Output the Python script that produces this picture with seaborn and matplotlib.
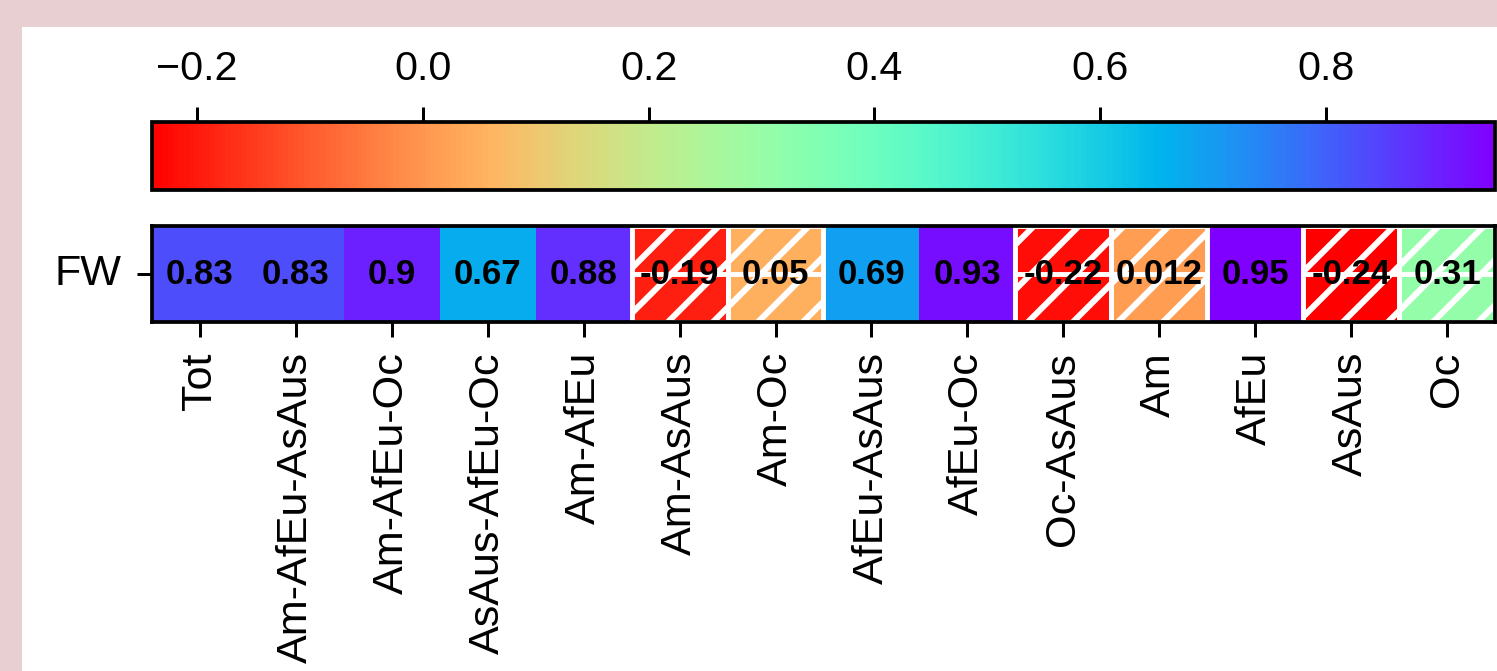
import numpy as np
import pandas as pd
import matplotlib
matplotlib.use('Agg')
import matplotlib.pyplot as plt
from matplotlib.patches import Rectangle
import seaborn as sns

# данные
regions = ['Tot', 'Am-AfEu-AsAus', 'Am-AfEu-Oc', 'AsAus-AfEu-Oc', 'Am-AfEu', 'Am-AsAus', 'Am-Oc',
           'AfEu-AsAus', 'AfEu-Oc', 'Oc-AsAus', 'Am', 'AfEu', 'AsAus', 'Oc']
fw_values = [0.83, 0.83, 0.9, 0.67, 0.88, -0.19, 0.05, 0.69, 0.93, -0.22, 0.012, 0.95, -0.24, 0.31]
significant = [True, True, True, True, True, False, False, True, True, False, False, True, False, False]
row_labels = ['FW']
cbar_ticks = [-0.2, 0.0, 0.2, 0.4, 0.6, 0.8]

sns.set_style('white')
plt.rcParams['font.family'] = ['Liberation Sans', 'DejaVu Sans']
plt.rcParams['text.color'] = 'black'
plt.rcParams['xtick.color'] = 'black'
plt.rcParams['ytick.color'] = 'black'
plt.rcParams['hatch.linewidth'] = 1.6

W, H, DPI = 1497, 671, 270
fig = plt.figure(figsize=(W / DPI, H / DPI), dpi=DPI)
fig.patch.set_facecolor('#e8d0d2')
fig.add_artist(Rectangle((22 / W, 0), 1, 1 - 27 / H, transform=fig.transFigure,
                         facecolor='white', edgecolor='none', zorder=-1))

ax = fig.add_axes([152 / W, 1 - 322 / H, (1495 - 152) / W, 96 / H])
cax = fig.add_axes([152 / W, 1 - 190 / H, (1495 - 152) / W, 68 / H])

df = pd.DataFrame([fw_values], index=row_labels, columns=regions)
sns.heatmap(df, ax=ax, cbar_ax=cax, cmap='rainbow_r', vmin=min(fw_values), vmax=max(fw_values),
            annot=True, fmt='.2g', annot_kws={'color': 'black', 'fontweight': 'bold', 'fontsize': 9.3},
            cbar_kws={'orientation': 'horizontal', 'ticks': cbar_ticks})

# штриховка незначимых ячеек
for j, sig in enumerate(significant):
    if not sig:
        ax.add_patch(Rectangle((j, 0), 1, 1, fill=False, hatch='//', edgecolor='white', lw=1.3))
        ax.plot([j, j + 1], [0.5, 0.5], color='white', lw=1.3)

for spine in ax.spines.values():
    spine.set_visible(True)
    spine.set_linewidth(1)
    spine.set_color('black')

ax.tick_params(axis='both', length=4, width=0.8, labelsize=11.5, pad=4, bottom=True, left=True)
ax.set_xticklabels(regions, rotation=90)
ax.set_yticklabels(row_labels, rotation=0)
ax.set_xlabel('')
ax.set_ylabel('')

cax.xaxis.set_ticks_position('top')
cax.xaxis.set_label_position('top')
cax.tick_params(axis='x', length=4, width=0.8, labelsize=11, pad=5, top=True, bottom=False)
cbar = ax.collections[0].colorbar
cbar.outline.set_linewidth(1)
cbar.outline.set_edgecolor('black')

plt.savefig('out.png', dpi=DPI, facecolor=fig.get_facecolor())
